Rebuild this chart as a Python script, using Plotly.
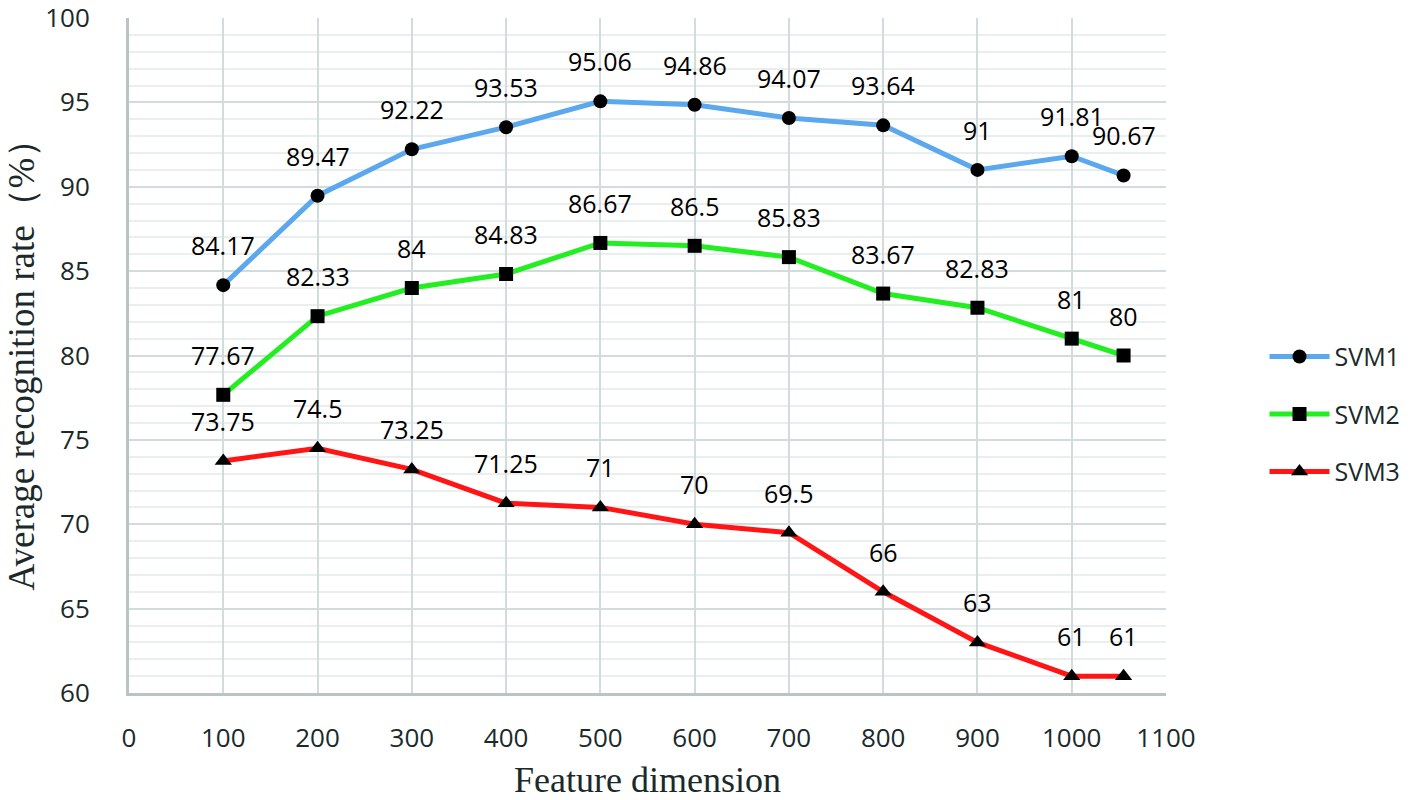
import plotly.graph_objects as go

x_vals = [100, 200, 300, 400, 500, 600, 700, 800, 900, 1000, 1055]
svm1 = [84.17, 89.47, 92.22, 93.53, 95.06, 94.86, 94.07, 93.64, 91, 91.81, 90.67]
svm2 = [77.67, 82.33, 84, 84.83, 86.67, 86.5, 85.83, 83.67, 82.83, 81, 80]
svm3 = [73.75, 74.5, 73.25, 71.25, 71, 70, 69.5, 66, 63, 61, 61]
series_names = ["SVM1", "SVM2", "SVM3"]
x_ticks = [0, 100, 200, 300, 400, 500, 600, 700, 800, 900, 1000, 1100]
y_ticks = [60, 65, 70, 75, 80, 85, 90, 95, 100]

colors = ["#5BA8EE", "#22EE22", "#FF1515"]
symbols = ["circle", "square", "triangle-up"]

fig = go.Figure()
annotations = []
for name, vals, col, sym in zip(series_names, [svm1, svm2, svm3], colors, symbols):
    fig.add_trace(go.Scatter(
        x=x_vals, y=vals, name=name, mode="lines+markers",
        line=dict(color=col, width=5),
        marker=dict(symbol=sym, color="black", size=14 if sym != "triangle-up" else 15),
        legendgroup=name,
    ))
    for xv, yv in zip(x_vals, vals):
        annotations.append(dict(
            x=xv, y=yv, xref="x", yref="y", text=f"{yv:g}", showarrow=False,
            yshift=40, font=dict(family="Open Sans, Noto Sans, sans-serif", size=25, color="black"),
        ))

fig.update_layout(
    width=1418, height=800,
    margin=dict(l=129, r=244, t=18, b=107),
    paper_bgcolor="white", plot_bgcolor="white",
    annotations=annotations,
    legend=dict(
        x=1.095, y=0.413, xanchor="left", yanchor="middle",
        font=dict(family="Open Sans, Noto Sans, sans-serif", size=25, color="#1a2a2a"),
        tracegroupgap=22, itemwidth=60,
    ),
    xaxis=dict(
        range=[0, 1100], tickvals=x_ticks, ticktext=[str(t) for t in x_ticks],
        showgrid=True, gridcolor="#d3dcdc", gridwidth=2,
        showline=True, linecolor="#b9c5c5", linewidth=3,
        zeroline=False, ticks="", ticklabelstandoff=20, ticklabeloverflow="allow",
        tickfont=dict(family="Open Sans, Noto Sans, sans-serif", size=26, color="#1a2a2a"),
        title=dict(text="Feature dimension", standoff=18,
                   font=dict(family="Liberation Serif, Times New Roman, serif", size=36, color="#1a2a2a")),
        automargin=False,
    ),
    yaxis=dict(
        range=[60, 100], tickvals=y_ticks, ticktext=[str(t) for t in y_ticks],
        showgrid=True, gridcolor="#d3dcdc", gridwidth=2,
        minor=dict(dtick=1, showgrid=True, gridcolor="#e9eeee", gridwidth=2),
        showline=True, linecolor="#b9c5c5", linewidth=3,
        zeroline=False, ticks="", ticklabelstandoff=31, ticklabeloverflow="allow",
        tickfont=dict(family="Open Sans, Noto Sans, sans-serif", size=26, color="#1a2a2a"),
        title=dict(text="Average recognition rate（%）", standoff=0,
                   font=dict(family="Liberation Serif, Times New Roman, serif", size=37, color="#1a2a2a")),
        automargin=False,
    ),
)

fig.write_html("out.html", config={"displayModeBar": False},
               post_script="document.body.style.margin='0';")
